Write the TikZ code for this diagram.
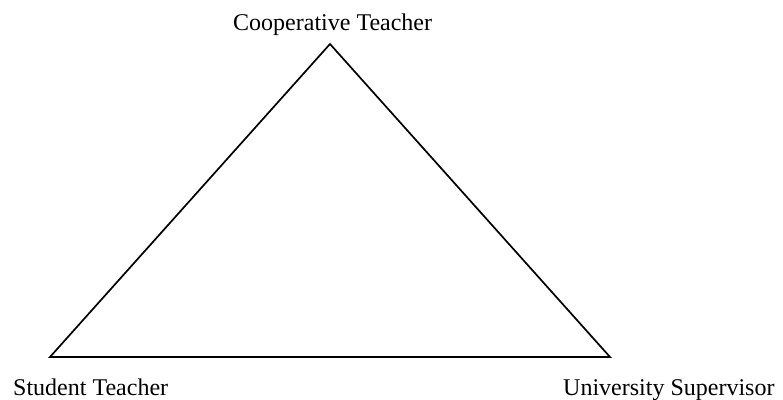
\documentclass[tikz,border=0pt]{standalone}
\usepackage{fontspec}
\setmainfont{Liberation Serif}
\begin{document}
\begin{tikzpicture}[x=1pt,y=-1pt,
  lbl/.style={inner sep=0pt,anchor=base west,font=\fontsize{24}{28}\selectfont},
  edge/.style={line width=1.7pt,line join=miter}]
\useasboundingbox (0,0) rectangle (783,399);
\coordinate (top) at (330,44);
\coordinate (sl) at (50,357);
\coordinate (sr) at (610,357);
\draw[edge] (top) -- (sr) -- (sl) -- cycle;
\node[lbl] (ct) at (233,30) {Cooperative Teacher};
\node[lbl] (st) at (13,395) {Student Teacher};
\node[lbl] (us) at (563,395) {University Supervisor};
\end{tikzpicture}
\end{document}
